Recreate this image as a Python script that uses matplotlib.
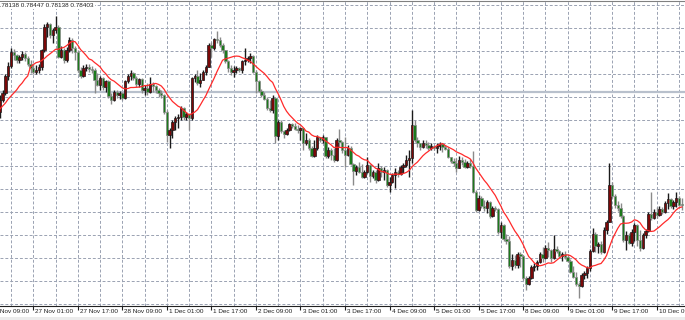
import numpy as np
import pandas as pd
import matplotlib
matplotlib.use("Agg")
import matplotlib.pyplot as plt
from matplotlib.patches import Rectangle

# NZDUSD H1 bars, prices in pips (1e-4)
first_open = 7933
closes = [
    7945, 7952, 7969, 7979, 7993, 7990, 7985, 7988, 7991, 7987, 7981, 7977, 7973, 7975, 7978, 7995,
    8018, 8021, 8010, 8015, 8018, 7988, 7995, 7985, 7995, 8005, 7997, 7993, 7975, 7969, 7977, 7978,
    7976, 7975, 7965, 7960, 7967, 7958, 7964, 7949, 7945, 7953, 7950, 7952, 7947, 7964, 7969, 7972,
    7967, 7961, 7966, 7955, 7957, 7953, 7961, 7959, 7955, 7952, 7950, 7933, 7910, 7915, 7923, 7927,
    7928, 7937, 7928, 7931, 7927, 7967, 7969, 7962, 7965, 7973, 7978, 8000, 7997, 8006, 8005, 8000,
    7995, 7984, 7977, 7973, 7975, 7977, 7975, 7984, 7985, 7987, 7989, 7973, 7964, 7954, 7950, 7946,
    7937, 7935, 7947, 7909, 7923, 7914, 7911, 7915, 7921, 7919, 7916, 7915, 7917, 7902, 7905, 7897,
    7889, 7897, 7908, 7905, 7908, 7889, 7895, 7890, 7885, 7905, 7903, 7895, 7890, 7897, 7881, 7874,
    7878, 7873, 7868, 7873, 7880, 7869, 7873, 7865, 7877, 7873, 7875, 7860, 7863, 7870, 7873, 7871,
    7878, 7880, 7885, 7887, 7920, 7905, 7902, 7898, 7902, 7900, 7897, 7899, 7897, 7899, 7901, 7898,
    7896, 7888, 7884, 7882, 7877, 7885, 7883, 7878, 7882, 7879, 7853, 7835, 7847, 7839, 7837, 7843,
    7829, 7837, 7836, 7813, 7820, 7806, 7804, 7779, 7785, 7780, 7791, 7789, 7767, 7761, 7767, 7778,
    7779, 7783, 7791, 7787, 7797, 7795, 7787, 7796, 7794, 7789, 7791, 7788, 7784, 7773, 7768, 7761,
    7759, 7770, 7772, 7777, 7794, 7811, 7799, 7801, 7793, 7815, 7823, 7860, 7849, 7840, 7837, 7829,
    7805, 7810, 7802, 7813, 7820, 7805, 7797, 7810, 7814, 7831, 7827, 7833, 7830, 7836, 7833, 7842,
    7846, 7839, 7843, 7847, 7840, 7840,
]
highs = [
    7950, 7955, 7971, 7983, 7997, 7996, 7991, 7990, 7994, 7993, 7989, 7985, 7981, 7980, 7981, 7996,
    8021, 8023, 8022, 8017, 8029, 8020, 7999, 7997, 7998, 8008, 8007, 7999, 7995, 7978, 7980, 7981,
    7981, 7979, 7977, 7972, 7969, 7968, 7965, 7965, 7952, 7955, 7955, 7954, 7953, 7965, 7971, 7975,
    7973, 7969, 7967, 7967, 7960, 7962, 7968, 7963, 7960, 7957, 7955, 7951, 7935, 7917, 7925, 7929,
    7931, 7939, 7938, 7933, 7932, 7968, 7971, 7975, 7972, 7975, 7980, 8002, 8003, 8007, 8014, 8008,
    8002, 7995, 7985, 7980, 7979, 7979, 7978, 7985, 7997, 7989, 7992, 7990, 7975, 7965, 7956, 7953,
    7948, 7945, 7950, 7948, 7925, 7925, 7915, 7917, 7922, 7922, 7922, 7920, 7918, 7917, 7912, 7907,
    7899, 7905, 7910, 7908, 7910, 7908, 7898, 7897, 7897, 7907, 7916, 7904, 7908, 7900, 7899, 7882,
    7880, 7883, 7881, 7875, 7888, 7881, 7875, 7875, 7882, 7879, 7878, 7876, 7868, 7872, 7877, 7875,
    7880, 7882, 7890, 7895, 7935, 7925, 7908, 7902, 7905, 7905, 7903, 7902, 7900, 7902, 7903, 7902,
    7900, 7898, 7888, 7887, 7887, 7889, 7888, 7886, 7884, 7886, 7894, 7855, 7850, 7849, 7845, 7845,
    7844, 7839, 7839, 7837, 7823, 7821, 7811, 7809, 7791, 7790, 7793, 7793, 7790, 7769, 7769, 7780,
    7782, 7785, 7793, 7798, 7800, 7803, 7796, 7810, 7799, 7795, 7793, 7794, 7791, 7786, 7779, 7773,
    7763, 7772, 7774, 7779, 7796, 7817, 7813, 7803, 7804, 7818, 7825, 7882, 7863, 7851, 7844, 7842,
    7830, 7814, 7812, 7816, 7822, 7821, 7815, 7812, 7816, 7833, 7853, 7836, 7838, 7839, 7838, 7844,
    7852, 7847, 7845, 7853, 7849, 7847,
]
lows = [
    7927, 7943, 7950, 7965, 7977, 7985, 7982, 7982, 7985, 7984, 7979, 7972, 7971, 7971, 7972, 7975,
    7993, 8008, 8007, 8002, 8012, 7987, 7987, 7982, 7983, 7993, 7992, 7985, 7973, 7967, 7968, 7974,
    7973, 7972, 7952, 7959, 7955, 7955, 7953, 7947, 7941, 7944, 7947, 7946, 7945, 7946, 7962, 7965,
    7965, 7958, 7958, 7952, 7950, 7950, 7952, 7953, 7952, 7948, 7947, 7931, 7903, 7897, 7907, 7915,
    7917, 7925, 7925, 7925, 7915, 7925, 7963, 7960, 7958, 7965, 7970, 7978, 7988, 7995, 8002, 7998,
    7992, 7982, 7973, 7970, 7968, 7972, 7973, 7972, 7980, 7983, 7982, 7972, 7952, 7953, 7948, 7945,
    7935, 7933, 7932, 7902, 7905, 7912, 7907, 7910, 7914, 7917, 7915, 7912, 7905, 7895, 7900, 7895,
    7888, 7888, 7895, 7903, 7902, 7887, 7887, 7885, 7883, 7884, 7898, 7892, 7878, 7889, 7880, 7860,
    7870, 7872, 7867, 7867, 7872, 7863, 7867, 7862, 7864, 7868, 7865, 7858, 7853, 7862, 7857, 7868,
    7870, 7872, 7878, 7868, 7882, 7903, 7898, 7895, 7897, 7897, 7895, 7895, 7895, 7892, 7895, 7893,
    7895, 7887, 7882, 7879, 7873, 7877, 7880, 7877, 7877, 7877, 7852, 7833, 7834, 7837, 7834, 7832,
    7827, 7828, 7834, 7811, 7807, 7804, 7801, 7777, 7775, 7777, 7777, 7778, 7765, 7755, 7760, 7766,
    7774, 7775, 7782, 7783, 7786, 7788, 7783, 7786, 7792, 7787, 7784, 7786, 7783, 7772, 7767, 7759,
    7747, 7758, 7766, 7767, 7774, 7793, 7793, 7792, 7791, 7792, 7811, 7823, 7847, 7837, 7834, 7827,
    7803, 7795, 7801, 7799, 7804, 7799, 7794, 7796, 7807, 7813, 7825, 7826, 7827, 7829, 7831, 7832,
    7836, 7837, 7836, 7838, 7839, 7835,
]

# red MA over the first bars (its history lies left of the window)
ma_lead = [7936, 7939, 7942, 7946, 7949, 7952, 7955, 7959, 7962, 7966, 7969]
ma_period = 12

tick_labels = ["26 Nov 09:00", "27 Nov 01:00", "27 Nov 17:00", "28 Nov 09:00",
               "1 Dec 01:00", "1 Dec 17:00", "2 Dec 09:00", "3 Dec 01:00",
               "3 Dec 17:00", "4 Dec 09:00", "5 Dec 01:00", "5 Dec 17:00",
               "8 Dec 09:00", "9 Dec 01:00", "9 Dec 17:00", "10 Dec 09:00"]
header = "0.78138 0.78447 0.78138 0.78403"
level_line = 7953

closes = np.array(closes) / 1e4
highs = np.array(highs) / 1e4
lows = np.array(lows) / 1e4
opens = np.r_[first_open / 1e4, closes[:-1]]
x = np.arange(len(closes))

ma = pd.Series(closes).rolling(ma_period).mean().to_numpy()
ma[:len(ma_lead)] = np.array(ma_lead) / 1e4

plt.rcParams["font.family"] = ["Liberation Sans", "DejaVu Sans"]

fig = plt.figure(figsize=(6.85, 3.2), dpi=100)
# thin grey strip along the bottom edge
fig.patches.append(Rectangle((0, 0), 1, 3 / 320, transform=fig.transFigure,
                             facecolor="#ececec", edgecolor="none"))
ax = fig.add_axes([0, 14 / 320, 1, 305 / 320])
ax.set_xlim(0.04, 246.17)
ax.set_ylim(0.7739, 0.8044)

# grid
grid_kw = dict(color="#9aa2b2", lw=0.7, linestyle=(0, (3, 2)), zorder=0)
ax.vlines(np.arange(4, 250, 8), 0.7739, 0.8044, **grid_kw)
ax.hlines((8039.7 - 23 * np.arange(14)) / 1e4, 0, 250, **grid_kw)
ax.axhline(level_line / 1e4, color="#b8c0cc", lw=1.6, zorder=1)

# candles
up = closes <= opens
wick_col = np.where(up, "#8a8a8a", "#1a1a1a")
ax.vlines(x, lows, highs, colors=wick_col, lw=1.0, zorder=2)
body_lo = np.minimum(opens, closes)
body_h = np.maximum(np.abs(closes - opens), 0.00008)
ax.bar(x, body_h, bottom=body_lo, width=0.85,
       color=np.where(up, "#1c7a1c", "#7a0808"), edgecolor=wick_col,
       linewidth=0.5, zorder=3)

ax.plot(x, ma, color="#ff2a2a", lw=0.9, zorder=4)

# axes frame
for s in ["left", "right"]:
    ax.spines[s].set_visible(False)
ax.spines["top"].set_color("#808080")
ax.spines["bottom"].set_color("#202020")
ax.set_yticks([])

label_pos = np.arange(-4, 250, 16)
ax.set_xticks(label_pos[label_pos > 0])
ax.set_xticklabels([])
ax.tick_params(axis="x", length=3, width=0.8, color="#202020")
for pos, lab in zip(label_pos, tick_labels):
    ax.annotate(lab, xy=(pos, 0), xycoords=ax.get_xaxis_transform(),
                xytext=(1.5, -2.5), textcoords="offset points",
                ha="left", va="top", fontsize=4.6, color="#202020",
                annotation_clip=False)

ax.text(-3.5 / 685, 1 - 2 / 305, header, transform=ax.transAxes,
        ha="left", va="top", fontsize=4.6, color="#202020", zorder=6,
        bbox=dict(facecolor="white", edgecolor="none", pad=0.5))

fig.savefig("out.png", dpi=100)
